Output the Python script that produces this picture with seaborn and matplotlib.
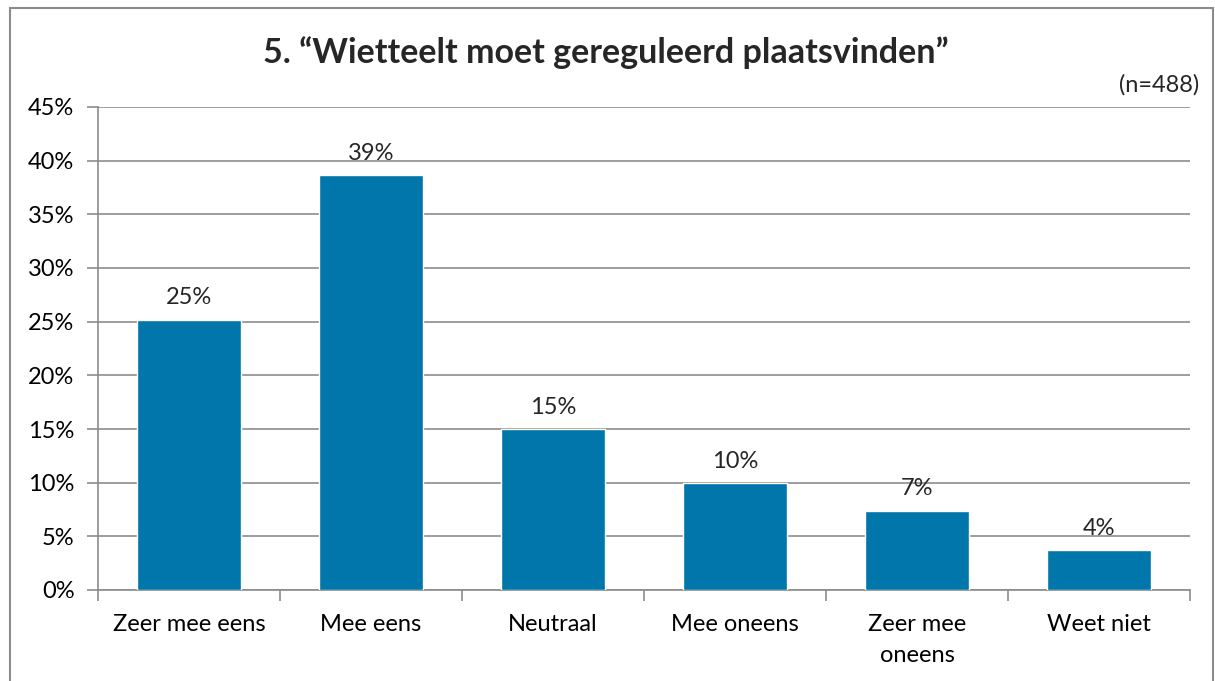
import matplotlib
matplotlib.use("Agg")
import matplotlib.pyplot as plt
import seaborn as sns
import numpy as np
from matplotlib.patches import Rectangle
from matplotlib.ticker import FixedLocator

# data (percent of respondents, n=488)
categories = ["Zeer mee eens", "Mee eens", "Neutraal", "Mee oneens", "Zeer mee\noneens", "Weet niet"]
values = [25.2, 38.7, 15.0, 10.0, 7.4, 3.7]
y_ticks = [0, 5, 10, 15, 20, 25, 30, 35, 40, 45]

title = "5. \u201cWietteelt moet gereguleerd plaatsvinden\u201d"
note = "(n=488)"

sns.set_theme(style="white")
plt.rcParams['font.family'] = ['Lato', 'DejaVu Sans']

W, H = 1215, 681
fig = plt.figure(figsize=(W / 100, H / 100), dpi=100)
ax = fig.add_axes([98 / W, 1 - 590 / H, (1190 - 98) / W, (590 - 107) / H])

grid_col = "#8c8c8c"
bar_col = "#0076AA"
fs = 17

sns.barplot(x=categories, y=values, color=bar_col, saturation=1, width=0.57, ax=ax, zorder=3)

ax.set_ylim(0, 45)
ax.set_xlim(-0.5, len(categories) - 0.5)
ax.set_yticks(y_ticks)
ax.set_yticklabels([f"{t}%" for t in y_ticks], fontsize=fs, color="black")
ax.yaxis.grid(True, color=grid_col, linewidth=1.2, zorder=0)
ax.set_axisbelow(True)

# x labels at centres, tick marks at category boundaries
ax.set_xticks(range(len(categories)))
ax.set_xticklabels(categories, fontsize=fs, color="black", linespacing=1.6)
ax.tick_params(axis="x", which="major", length=0, pad=17)
ax.xaxis.set_minor_locator(FixedLocator(np.arange(-0.5, len(categories), 1.0)))
ax.tick_params(axis="x", which="minor", length=8, width=1.2, color=grid_col, bottom=True)
ax.tick_params(axis="y", length=8, width=1.2, color=grid_col, left=True, pad=9)

for side in ["top", "right"]:
    ax.spines[side].set_visible(False)
for side in ["left", "bottom"]:
    ax.spines[side].set_color(grid_col)
    ax.spines[side].set_linewidth(1.2)

ax.set_xlabel("")
ax.set_ylabel("")

# value labels
ax.bar_label(ax.containers[0], labels=[f"{v:.0f}%" for v in values], padding=8, fontsize=fs)

fig.text(606 / W, 1 - 53 / H, title, ha="center", va="center", fontsize=24.5, fontweight="bold")
fig.text(1199 / W, 1 - 85 / H, note, ha="right", va="center", fontsize=fs)

# chart border
fig.patches.append(Rectangle((10 / W, -0.02), (1213 - 10) / W, 1.02 - 8 / H,
                             transform=fig.transFigure, fill=False,
                             edgecolor="#8c8c8c", linewidth=1.5))

fig.savefig("out.png", dpi=100, facecolor="white")
